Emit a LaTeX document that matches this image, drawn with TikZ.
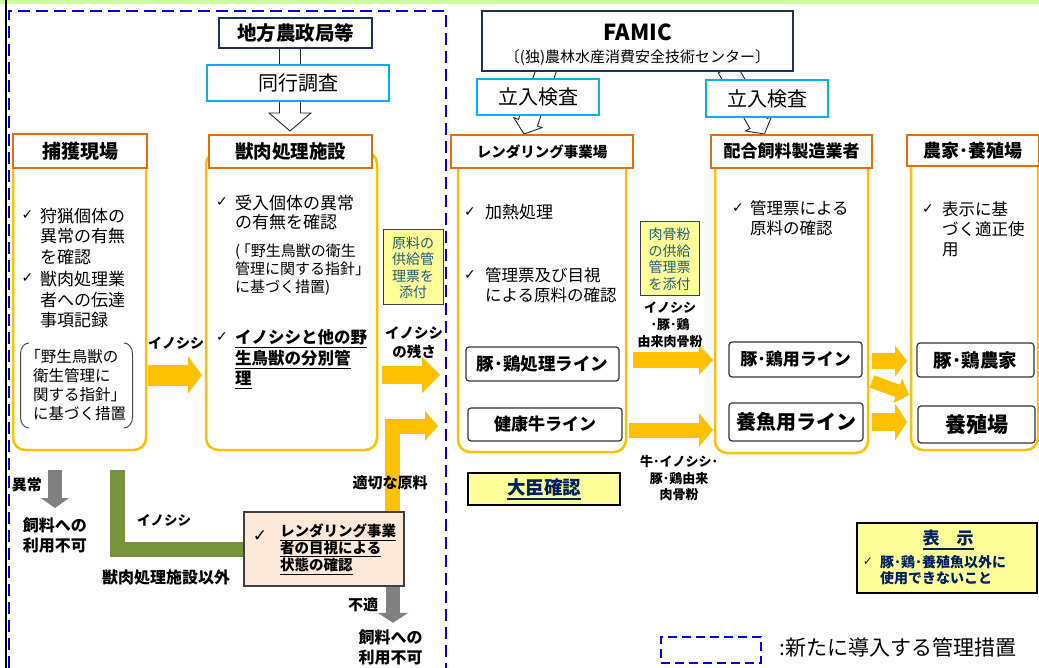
\documentclass[tikz,border=0pt]{standalone}
\usepackage{fontspec}
\setmainfont{Noto Sans CJK JP}
\newfontfamily\djv{DejaVu Sans}
\usetikzlibrary{arrows.meta,calc}
\pgfdeclarelayer{bg}
\pgfsetlayers{bg,main}
\definecolor{navyb}{HTML}{1F3060}
\definecolor{navyt}{HTML}{002060}
\definecolor{orgc}{HTML}{E46C0A}
\definecolor{gold}{HTML}{FFC000}
\definecolor{cyanb}{HTML}{00B0F0}
\definecolor{lyel}{HTML}{FFFF99}
\definecolor{peachf}{HTML}{FDE9D9}
\definecolor{oliveg}{HTML}{77933C}
\definecolor{grayar}{HTML}{808080}
\definecolor{tealt}{HTML}{1F5C7A}
\definecolor{lgreen}{HTML}{CCFF99}
\definecolor{dblue}{HTML}{0000E0}
\newcommand\fs[2]{\fontsize{#1}{#2}\selectfont}
\newcommand\ul[1]{\setbox0\hbox{#1}\rlap{\rule[-0.28em]{\wd0}{1.2pt}}\box0}
% hollow block arrow: #1 name, #2 tail, #3 tip, #4 shaft half width, #5 head half width, #6 head length
\newcommand\hollowarr[6]{%
  \coordinate (#1-a) at #2; \coordinate (#1-b) at #3;
  \coordinate (#1-c) at ($(#1-b)!#6!(#1-a)$);
  \draw[hollow] ($(#1-a)!#4!90:(#1-b)$) -- ($(#1-c)!#4!90:(#1-b)$) -- ($(#1-c)!#5!90:(#1-b)$) -- (#1-b)
    -- ($(#1-c)!#5!-90:(#1-b)$) -- ($(#1-c)!#4!-90:(#1-b)$) -- ($(#1-a)!#4!-90:(#1-b)$) -- cycle;}
\begin{document}
\begin{tikzpicture}[x=1pt,y=-1pt,
  hdr/.style={draw=orgc, line width=2.5pt, fill=white, inner sep=0pt, outer sep=0pt, font=\bfseries\fs{#1}{#1}},
  ybox/.style={draw=gold, line width=2.5pt, fill=white, rounded corners=12pt, inner sep=0pt, outer sep=0pt},
  lbox/.style={draw=black!80, line width=1.2pt, fill=white, rounded corners=3pt, inner sep=0pt, outer sep=0pt, font=\bfseries\fs{#1}{#1}},
  cbox/.style={draw=cyanb, line width=2.5pt, fill=white, inner sep=0pt, outer sep=0pt, font=\fs{#1}{#1}},
  nbox/.style={draw=navyb, line width=2pt, fill=white, inner sep=0pt, outer sep=0pt},
  note/.style={draw=black!75, line width=1pt, fill=lyel, inner sep=0pt, outer sep=0pt, align=center, text=tealt, font=\fs{14}{16.5}},
  kbox/.style={draw=black, line width=2.5pt, fill=lyel, inner sep=0pt, outer sep=0pt},
  txt/.style n args={2}{anchor=west, align=left, inner sep=0pt, font=\fs{#1}{#2}},
  txtb/.style n args={2}{anchor=west, align=left, inner sep=0pt, font=\bfseries\fs{#1}{#2}},
  ck/.style={inner sep=0pt, font=\djv\fs{#1}{#1}},
  lab/.style n args={2}{align=center, inner sep=0pt, font=\bfseries\fs{#1}{#2}},
  yarr/.style={draw=gold},
  garr/.style={draw=grayar},
  tp/.style n args={2}{-{Triangle[length=#1,width=#2,line width=0pt]}},
  hollow/.style={draw=black!85, fill=white, line width=0.9pt, line join=miter},
  newdash/.style={draw=dblue, line width=2.5pt, dash pattern=on 12pt off 6pt}
]
\useasboundingbox (0,0) rectangle (1039,668);
\fill[lgreen] (0,0) rectangle (1039,4);
\draw[black, line width=2pt] (6,0) -- (6,668);
\draw[newdash] (9,668) -- (9,11) -- (446,11) -- (446,668);

% top authorities
\node[nbox, minimum width=153, minimum height=30, font=\bfseries\fs{19.5}{19.5}] (chiho) at (295.5,33) {地方農政局等};
\node[cbox=20, minimum width=182, minimum height=36] (doko) at (298,83) {同行調査};
\node[nbox, minimum width=311, minimum height=60] (famic) at (637.5,41) {};
\node[inner sep=0pt, font=\bfseries\fs{22}{22}] (famicA) at (637.5,32) {FAMIC};
\node[inner sep=0pt, font=\fs{15}{15}] (famicB) at (637.5,58) {〔(独)農林水産消費安全技術センター〕};
\node[cbox=20, minimum width=122, minimum height=36] (tachi1) at (538,97) {立入検査};
\node[cbox=20, minimum width=122, minimum height=37] (tachi2) at (767,98.5) {立入検査};

% yellow columns
\node[ybox, minimum width=133, minimum height=298] (yb1) at (79.5,301) {};
\node[ybox, minimum width=171, minimum height=298] (yb2) at (291.5,301) {};
\node[ybox, minimum width=168, minimum height=300] (yb3) at (542,302) {};
\node[ybox, minimum width=153, minimum height=301] (yb4) at (791.5,302.5) {};
\node[ybox, minimum width=127, minimum height=298] (yb5) at (974.5,301) {};

% headers
\node[hdr=19, minimum width=134, minimum height=34] (hdr1) at (80,151) {捕獲現場};
\node[hdr=18.5, minimum width=163, minimum height=33] (hdr2) at (290.5,151.5) {獣肉処理施設};
\node[hdr=14.5, minimum width=182, minimum height=33] (hdr3) at (542,151.5) {レンダリング事業場};
\node[hdr=17, minimum width=161, minimum height=33] (hdr4) at (791.5,151.5) {配合飼料製造業者};
\node[hdr=18, minimum width=132, minimum height=31] (hdr5) at (973,150.5) {農家･養殖場};

% column 1
\node[ck=14] (c1a) at (27.5,215) {✓};
\node[txt={17}{20.3}] (t1a) at (40,236.3) {狩猟個体の\\異常の有無\\を確認};
\node[ck=14] (c1b) at (27.5,278) {✓};
\node[txt={17}{20.3}] (t1b) at (40,299.7) {獣肉処理業\\者への伝達\\事項記録};
\node[txt={15.5}{19}] (t1c) at (33,385.5) {\hspace*{-0.5em}「野生鳥獣の\\衛生管理に\\関する指針」\\に基づく措置};
\draw[black!70, line width=1pt] (29,343) to[out=180,in=90] (20.5,354) -- (20.5,417) to[out=-90,in=180] (29,428);
\draw[black!70, line width=1pt] (124,343) to[out=0,in=90] (132.5,354) -- (132.5,417) to[out=-90,in=0] (124,428);

% column 2
\node[ck=14] (c2a) at (222,202) {✓};
\node[txt={17}{19}] (t2a) at (235,212.5) {受入個体の異常\\の有無を確認};
\node[txt={15}{18}] (t2b) at (235,270) {(\hspace{-0.3em}「野生鳥獣の衛生\\管理に関する指針」\\に基づく措置)};
\node[ck=14] (c2b) at (222,337) {✓};
\node[txtb={16.5}{20.5}] (t2c) at (235,359.5) {\ul{イノシシと他の野}\\\ul{生鳥獣の分別管}\\\ul{理}};

% notes between columns
\node[note, minimum width=60, minimum height=75] (gen) at (413,267.5) {原料の\\供給管\\理票を\\添付};
\node[note, minimum width=59, minimum height=74] (nik) at (669.5,259) {肉骨粉\\の供給\\管理票\\を添付};

% column 3
\node[ck=14] (c3a) at (470,212) {✓};
\node[txt={17}{20}] (t3a) at (485,212) {加熱処理};
\node[ck=14] (c3b) at (470,275) {✓};
\node[txt={16.5}{20}] (t3b) at (485,285) {管理票及び目視\\による原料の確認};
\node[lbox=17.5, minimum width=153, minimum height=34] (b3a) at (542.5,364) {豚･鶏処理ライン};
\node[lbox=17, minimum width=154, minimum height=33] (b3b) at (545,424.5) {健康牛ライン};
\node[kbox, minimum width=152, minimum height=32, text=navyt, font=\bfseries\fs{18.5}{18.5}] (daijin) at (544,489) {\ul{大臣確認}};

% column 4
\node[ck=14] (c4) at (738,208) {✓};
\node[txt={16.5}{20}] (t4) at (750,218) {管理票による\\原料の確認};
\node[lbox=17, minimum width=133, minimum height=35] (b4a) at (795.5,359.5) {豚･鶏用ライン};
\node[lbox=20, minimum width=134, minimum height=38] (b4b) at (796,422) {養魚用ライン};

% column 5
\node[ck=14] (c5) at (928,209) {✓};
\node[txt={16.5}{20}] (t5) at (942,229) {表示に基\\づく適正使\\用};
\node[lbox=18.5, minimum width=117, minimum height=34] (b5a) at (975.5,360) {豚･鶏農家};
\node[lbox=21, minimum width=117, minimum height=37] (b5b) at (976.5,424.5) {養殖場};

% display box
\node[kbox, minimum width=180, minimum height=70] (hyo) at (947,558) {};
\node[inner sep=0pt, text=navyt, font=\bfseries\fs{17}{17}] (hyoA) at (948,540) {\ul{表　示}};
\node[ck=12, text=navyt] (hyoC) at (868,562) {✓};
\node[txtb={14}{16}, text=navyt] (hyoB) at (880,570) {豚･鶏･養殖魚以外に\\使用できないこと};

% peach box
\node[draw=black!75, line width=1.5pt, fill=peachf, minimum width=160, minimum height=74, inner sep=0pt] (peach) at (324,549) {};
\node[ck=17] (pk) at (260,536) {✓};
\node[txtb={14.5}{16.5}] (pkt) at (280,549.5) {\ul{レンダリング事業}\\\ul{者の目視による}\\\ul{状態の確認}};

% labels
\node[lab={14}{14}] (L1) at (176,343) {イノシシ};
\node[lab={14.5}{19}] (L2) at (414,342.5) {イノシシ\\の残さ};
\node[lab={15}{15}] (L3) at (390,483) {適切な原料};
\node[lab={15}{15}] (L4) at (27,485) {異常};
\node[lab={16}{19.5}] (L5) at (55,535.5) {飼料への\\利用不可};
\node[lab={13.5}{13.5}] (L6) at (164,520) {イノシシ};
\node[lab={16}{16}] (L7) at (166,577) {獣肉処理施設以外};
\node[lab={15}{15}] (L8) at (363,605) {不適};
\node[lab={16}{20}] (L9) at (390.5,647) {飼料への\\利用不可};
\node[lab={13}{17}] (L10) at (670,325) {イノシシ\\･豚･鶏\\由来肉骨粉};
\node[lab={13}{16.5}] (L11) at (679,478.5) {牛･イノシシ･\\豚･鶏由来\\肉骨粉};

% legend
\node[newdash, dash pattern=on 9pt off 5pt, minimum width=100, minimum height=26, inner sep=0pt] (lgbox) at (711,650) {};
\node[anchor=west, inner sep=0pt, font=\fs{21}{21}] (lgt) at (779,648) {:新たに導入する管理措置};

% row helpers
\coordinate (rA) at (0,375);
\coordinate (rB) at (0,360);
\coordinate (rC) at (0,430);
\coordinate (rD) at (0,361);
\coordinate (rE) at (0,422);

\begin{pgfonlayer}{bg}
\hollowarr{h1}{($(chiho.south)+(-5.5,0)$)}{($(hdr2.north)+(-0.5,-4)$)}{10.5pt}{21pt}{18pt}
\hollowarr{h2}{($(famic.south)+(-90.5,-3)$)}{($(hdr3.north)+(-18,-1)$)}{10pt}{15pt}{12pt}
\hollowarr{h3}{($(famic.south)+(89.5,-3)$)}{($(hdr4.north)+(-27,-1)$)}{10pt}{15pt}{12pt}
\draw[yarr, line width=21pt, tp={14pt}{37pt}] ($(yb1.east |- rA)+(2,0)$) -- ($(yb2.west |- rA)+(-4,0)$);
\draw[yarr, line width=18pt, tp={18pt}{36pt}] ($(yb2.east |- rA)+(5,0)$) -- ($(yb3.west |- rA)+(-18,0)$);
\draw[yarr, line width=15pt, line join=miter, tp={13pt}{30pt}] ($(peach.north)+(68,0)$) |- ($(yb3.west)+(-20,124)$);
\draw[yarr, line width=15pt, tp={14pt}{30pt}] ($(yb3.east |- rB)+(7,0)$) -- ($(yb4.west |- rB)+(-2,0)$);
\draw[yarr, line width=15pt, tp={14pt}{34pt}] ($(yb3.east |- rC)+(3,0)$) -- ($(yb4.west |- rC)+(-2,0)$);
\draw[yarr, line width=16pt, tp={12pt}{31pt}] ($(yb4.east |- rD)+(4,0)$) -- ($(yb5.west |- rD)+(-4,0)$);
\draw[yarr, line width=13pt, tp={12pt}{26pt}] ($(yb4.east)+(4,79)$) -- ($(yb5.west)+(-2,94)$);
\draw[yarr, line width=18pt, tp={12pt}{37pt}] ($(yb4.east |- rE)+(4,0)$) -- ($(yb5.west |- rE)+(-4,0)$);
\draw[garr, line width=14pt, tp={10pt}{28pt}] ($(yb1.south)+(-24.5,20)$) -- ($(yb1.south)+(-24.5,58)$);
\draw[garr, line width=14pt, tp={10pt}{31pt}] ($(peach.south)+(69,0)$) -- ($(peach.south)+(69,36)$);
\draw[oliveg, line width=15pt, line join=miter] ($(yb1.south)+(37.5,20)$) |- (peach.west);
\end{pgfonlayer}
\end{tikzpicture}
\end{document}
